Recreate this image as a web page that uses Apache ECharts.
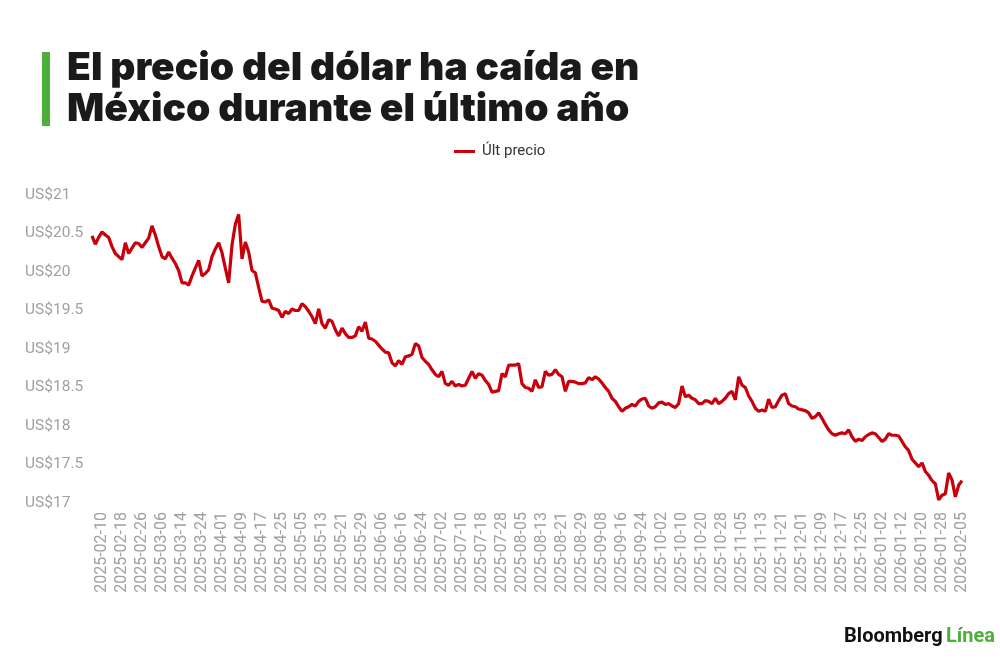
<!DOCTYPE html>
<html>
<head>
<meta charset="utf-8">
<script src="https://cdn.jsdelivr.net/npm/echarts@6/dist/echarts.min.js"></script>
<style>
html,body{margin:0;padding:0;background:#fff;}
#chart{width:1000px;height:660px;}
</style>
</head>
<body>
<div id="chart"></div>
<script>
// Weekday categories from 2025-02-05 to 2026-02-05
const startDate = '2025-02-05';
const endDate = '2026-02-05';
const seriesName = 'Últ precio';
const yTicks = [17, 17.5, 18, 18.5, 19, 19.5, 20, 20.5, 21];

const prices = [
  20.47,20.36,20.45,20.52,20.48,20.45,20.33,20.24,20.20,20.16,
  20.38,20.24,20.31,20.38,20.37,20.32,20.38,20.44,20.60,20.48,
  20.33,20.20,20.17,20.26,20.18,20.11,20.02,19.86,19.86,19.83,
  19.95,20.05,20.15,19.95,19.98,20.03,20.20,20.30,20.38,20.25,
  20.05,19.86,20.35,20.62,20.75,20.17,20.39,20.26,20.02,19.99,
  19.80,19.62,19.61,19.64,19.53,19.52,19.50,19.41,19.49,19.46,
  19.52,19.50,19.50,19.59,19.55,19.49,19.42,19.33,19.52,19.33,
  19.27,19.38,19.36,19.25,19.17,19.27,19.20,19.15,19.15,19.17,
  19.29,19.23,19.35,19.14,19.13,19.10,19.05,19.00,18.96,18.95,
  18.82,18.78,18.85,18.80,18.90,18.91,18.93,19.07,19.04,18.89,
  18.84,18.80,18.73,18.67,18.64,18.71,18.55,18.53,18.58,18.52,
  18.54,18.52,18.53,18.62,18.71,18.62,18.68,18.66,18.59,18.54,
  18.44,18.45,18.46,18.68,18.64,18.79,18.79,18.79,18.81,18.55,
  18.50,18.49,18.45,18.60,18.50,18.51,18.71,18.66,18.67,18.73,
  18.67,18.64,18.45,18.58,18.58,18.57,18.55,18.55,18.56,18.63,
  18.60,18.64,18.61,18.56,18.50,18.45,18.36,18.32,18.25,18.19,
  18.23,18.25,18.28,18.26,18.32,18.35,18.36,18.26,18.23,18.25,
  18.30,18.31,18.28,18.29,18.26,18.24,18.29,18.52,18.38,18.40,
  18.36,18.34,18.29,18.29,18.33,18.32,18.29,18.36,18.29,18.32,
  18.36,18.42,18.45,18.34,18.64,18.53,18.50,18.39,18.32,18.23,
  18.19,18.21,18.19,18.35,18.24,18.25,18.33,18.40,18.42,18.29,
  18.26,18.25,18.22,18.21,18.20,18.17,18.10,18.12,18.17,18.10,
  18.02,17.95,17.90,17.88,17.90,17.91,17.90,17.95,17.86,17.80,
  17.83,17.81,17.86,17.89,17.91,17.90,17.85,17.80,17.83,17.90,
  17.88,17.88,17.87,17.80,17.73,17.68,17.57,17.52,17.47,17.52,
  17.41,17.36,17.29,17.25,17.04,17.10,17.12,17.39,17.30,17.08,
  17.23,17.29
];

function weekdays(a, b) {
  const out = [];
  const d = new Date(a + 'T00:00:00Z');
  const e = new Date(b + 'T00:00:00Z');
  while (d <= e) {
    const wd = d.getUTCDay();
    if (wd !== 0 && wd !== 6) out.push(d.toISOString().slice(0, 10));
    d.setUTCDate(d.getUTCDate() + 1);
  }
  return out;
}
const dates = weekdays(startDate, endDate);

const chart = echarts.init(document.getElementById('chart'));
chart.setOption({
  animation: false,
  backgroundColor: '#ffffff',
  title: {
    text: 'El precio del dólar ha caída en\nMéxico durante el último año',
    left: 62, top: 43,
    textStyle: {
      fontFamily: 'Inter', fontWeight: 900, fontSize: 39,
      lineHeight: 41, color: '#1a1a1a'
    }
  },
  legend: {
    data: [seriesName],
    top: 144, left: 454, padding: 0,
    icon: 'rect', itemWidth: 21, itemHeight: 3, itemGap: 7,
    textStyle: { fontFamily: 'Roboto', fontSize: 15, color: '#333', padding: [0, 0, 0, 2] }
  },
  grid: { left: 92, right: 38, top: 195, bottom: 157, containLabel: false },
  xAxis: {
    type: 'category',
    data: dates,
    boundaryGap: false,
    axisLine: { show: false },
    axisTick: { show: false },
    axisLabel: {
      rotate: 90,
      margin: 9,
      color: '#a0a0a0',
      fontFamily: 'Roboto',
      fontSize: 16,
      interval: function (idx) { return idx >= 3 && (idx - 3) % 6 === 0; }
    },
    splitLine: { show: false }
  },
  yAxis: {
    type: 'value',
    min: yTicks[0], max: yTicks[yTicks.length - 1], interval: 0.5,
    axisLine: { show: false },
    axisTick: { show: false },
    splitLine: { show: false },
    axisLabel: {
      align: 'left',
      margin: 67,
      color: '#a0a0a0',
      fontFamily: 'Roboto',
      fontSize: 15.5,
      formatter: function (v) { return 'US$' + v; }
    }
  },
  series: [{
    name: seriesName,
    type: 'line',
    data: prices,
    showSymbol: false,
    symbol: 'none',
    lineStyle: { color: '#c8000b', width: 3.2 },
    itemStyle: { color: '#c8000b' }
  }],
  graphic: [
    { type: 'rect', shape: { x: 42, y: 52, width: 8, height: 74 }, style: { fill: '#4caf3c' } },
    {
      type: 'text', right: 5, top: 627,
      style: {
        text: '{a|Bloomberg} {b|Línea}',
        rich: {
          a: { fontFamily: 'Roboto', fontWeight: 'bold', fontSize: 20, fill: '#111' },
          b: { fontFamily: 'Roboto', fontWeight: 'bold', fontSize: 20, fill: '#4caf3c' }
        }
      }
    }
  ]
});
</script>
</body>
</html>
